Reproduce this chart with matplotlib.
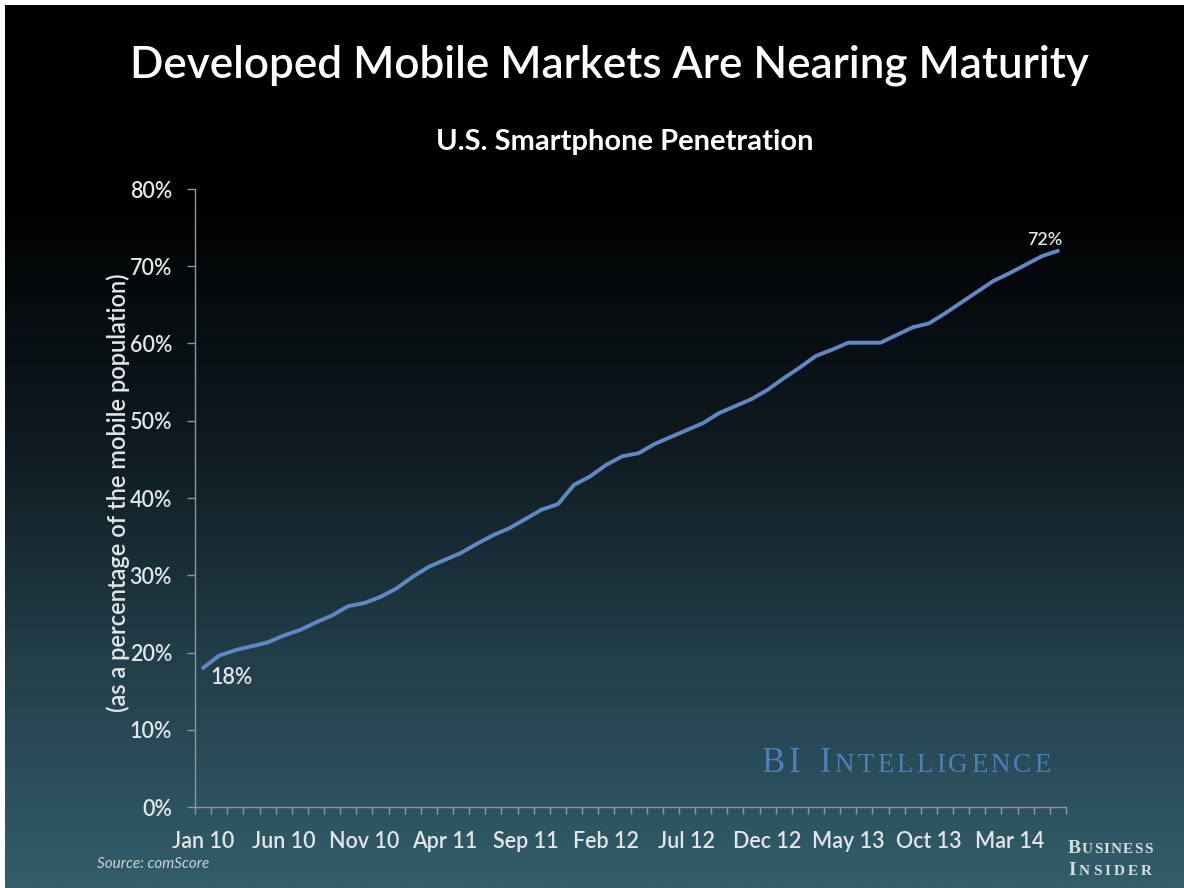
import numpy as np
import pandas as pd
import matplotlib
matplotlib.use("Agg")
import matplotlib.pyplot as plt
from matplotlib.colors import LinearSegmentedColormap

# ---- data -------------------------------------------------------------
# U.S. smartphone penetration, % of the mobile population, monthly from Jan 2010
penetration = [
    18.0, 19.6, 20.3, 20.8, 21.3, 22.2, 22.9, 23.9, 24.8, 26.0,
    26.4, 27.2, 28.3, 29.8, 31.1, 32.0, 32.9, 34.1, 35.2, 36.1,
    37.3, 38.5, 39.2, 41.7, 42.8, 44.3, 45.4, 45.8, 47.0, 47.9,
    48.8, 49.7, 51.0, 51.9, 52.8, 54.0, 55.5, 56.9, 58.4, 59.2,
    60.1, 60.1, 60.1, 61.1, 62.1, 62.6, 63.9, 65.3, 66.7, 68.1,
    69.1, 70.2, 71.3, 72.0,
]
months = pd.date_range("2010-01-01", periods=len(penetration), freq="MS")
month_labels = [d.strftime("%b %y") for d in months]
label_step = 5
y_ticks = [0, 10, 20, 30, 40, 50, 60, 70, 80]
first_label = "18%"
last_label = "72%"

title = "Developed Mobile Markets Are Nearing Maturity"
subtitle = "U.S. Smartphone Penetration"
y_title = "(as a percentage of the mobile population)"
source = "Source: comScore"

# ---- styling ----------------------------------------------------------
plt.rcParams["font.family"] = ["Lato", "DejaVu Sans"]
W, H = 1184, 888
TXT = "#e2e6e8"
AXC = "#8a989e"
LINE = "#6088c6"
WT = "semibold"

fig = plt.figure(figsize=(W / 100, H / 100), dpi=100, facecolor="white")

# slide background: black at the top fading into slate teal at the bottom
bg = fig.add_axes([5 / W, 0, 1 - 5 / W, 1 - 5 / H])
bg.set_axis_off()
slide = LinearSegmentedColormap.from_list(
    "slide",
    [(0.0, "#000000"), (0.22, "#000000"), (0.50, "#0f1b21"),
     (0.73, "#213d48"), (1.0, "#335d6b")],
)
bg.imshow(np.linspace(0, 1, 600).reshape(-1, 1), aspect="auto", cmap=slide,
          extent=[0, 1, 0, 1], origin="upper")
bg.set_xlim(0, 1)
bg.set_ylim(0, 1)

# ---- chart ------------------------------------------------------------
ax = fig.add_axes([195 / W, 1 - 807 / H, 871 / W, 618 / H])
ax.set_facecolor("none")
x = np.arange(len(penetration))
ax.plot(x, penetration, color=LINE, lw=2.8, solid_joinstyle="round",
        solid_capstyle="round", zorder=3)
ax.set_xlim(-0.5, len(penetration) - 0.5)
ax.set_ylim(y_ticks[0], y_ticks[-1])

for side in ("top", "right"):
    ax.spines[side].set_visible(False)
for side in ("left", "bottom"):
    ax.spines[side].set_color(AXC)
    ax.spines[side].set_linewidth(1.0)

ax.set_yticks(y_ticks)
ax.set_yticklabels([f"{v}%" for v in y_ticks], fontweight=WT)
ax.tick_params(axis="y", length=6, width=1, color=AXC, pad=10.5,
               labelsize=15.5, labelcolor=TXT)

ax.set_xticks(x[::label_step])
ax.set_xticklabels(month_labels[::label_step], fontweight=WT)
ax.tick_params(axis="x", which="major", length=0, pad=17,
               labelsize=15.5, labelcolor=TXT)
ax.set_xticks(np.arange(len(penetration) + 1) - 0.5, minor=True)
ax.tick_params(axis="x", which="minor", length=5, width=1, color=AXC)

ax.annotate(first_label, xy=(x[0], penetration[0]), xytext=(5, -11.3),
            textcoords="offset points", ha="left", va="baseline",
            fontsize=15.5, fontweight=WT, color=TXT)
ax.annotate(last_label, xy=(x[-1], penetration[-1]), xytext=(3.6, 4.2),
            textcoords="offset points", ha="right", va="baseline",
            fontsize=13, fontweight=WT, color=TXT)

# ---- titles -----------------------------------------------------------
fig.text(609 / W, 1 - 77 / H, title, ha="center", va="baseline",
         fontsize=31.7, fontweight=WT, color="white")
fig.text(625 / W, 1 - 150 / H, subtitle, ha="center", va="baseline",
         fontsize=21, fontweight="bold", color="white")
fig.text(118 / W, 1 - 493 / H, y_title, rotation=90, ha="center",
         va="center", fontsize=17, fontweight=WT, color=TXT)
fig.text(97 / W, 1 - 868 / H, source, ha="left", va="baseline",
         fontsize=11, style="italic", color="#c9d2d6")


def small_caps(x_px, y_px, letters, color, weight="normal"):
    """Lay out letters left to right on one baseline; each entry is
    (char, fontsize, gap_before_pt)."""
    prev = None
    for ch, size, gap in letters:
        kw = dict(ha="left", va="baseline", fontsize=size, color=color,
                  family=["Liberation Serif", "DejaVu Serif"],
                  fontweight=weight, annotation_clip=False)
        if prev is None:
            prev = bg.annotate(ch, xy=(x_px, H - y_px),
                               xycoords="figure pixels", **kw)
        else:
            prev = bg.annotate(ch, xy=(1, H - y_px),
                               xycoords=(prev, "figure pixels"),
                               xytext=(gap, 0), textcoords="offset points",
                               **kw)


def word(text, big, small, gap, first_gap=None):
    out = []
    for i, ch in enumerate(text):
        size = big if ch.isupper() else small
        g = gap if (i > 0 or first_gap is None) else first_gap
        out.append((ch.upper(), size, g))
    return out


brand = word("BI", 25, 19.5, 2.3) + word("Intelligence", 25, 19.5, 2.3, 14)
small_caps(762, 772, brand, "#4f7fba")
small_caps(1068, 853, word("Business", 14, 11, 0.8), "#d5dde0", "bold")
small_caps(1068, 875, word("Insider", 14, 11, 2.3), "#d5dde0", "bold")

fig.savefig("out.png", dpi=100, facecolor=fig.get_facecolor())
